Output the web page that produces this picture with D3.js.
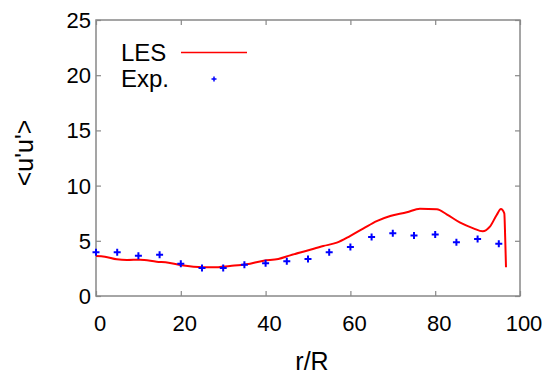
<!DOCTYPE html>
<html><head><meta charset="utf-8">
<script src="https://cdn.jsdelivr.net/npm/d3@7"></script>
<style>body{margin:0;background:#fff}svg{display:block}text{font-family:"Liberation Sans",Arial,sans-serif;fill:#000}</style>
</head><body><svg id="c" width="556" height="378"></svg>
<script>
const xTicks = [0,20,40,60,80,100];
const yTicks = [0,5,10,15,20,25];
const expR = [0,5,10,15,20,25,30,35,40,45,50,55,60,65,70,75,80,85,90,95];
const expV = [3.96,3.96,3.65,3.74,2.93,2.54,2.54,2.84,2.96,3.14,3.35,3.96,4.44,5.34,5.68,5.47,5.56,4.86,5.16,4.74];
const lesR = [0,2.1,4.9,7.3,10.4,14.3,17.1,20.2,23,27.7,31.6,35.5,39.5,43,45.8,49.7,53.6,56.8,59.9,63.1,66.2,69.4,73.3,76.4,80.4,82.7,85.9,89,91.2,92.9,94.5,95.5,96.3,96.5,96.7];
const lesV = [3.62,3.56,3.32,3.26,3.29,3.11,3.02,2.78,2.66,2.60,2.72,2.87,3.20,3.35,3.68,4.10,4.53,4.83,5.43,6.13,6.79,7.25,7.58,7.91,7.85,7.40,6.64,6.13,5.86,6.28,7.34,7.88,7.49,5.37,2.6];

const svg = d3.select("#c");
const L=96,R=520,T=20,B=296;
const x = d3.scaleLinear().domain([0,100]).range([L,R]);
const y = d3.scaleLinear().domain([0,25]).range([B,T]);
const axc = "#888";

const g = svg.append("g");
g.append("rect").attr("x",L).attr("y",T).attr("width",R-L).attr("height",B-T)
 .attr("fill","none").attr("stroke",axc).attr("stroke-width",1.5);
function styleAxis(sel){ sel.select(".domain").remove(); sel.selectAll(".tick line").attr("stroke",axc).attr("stroke-width",1.2); sel.selectAll(".tick text").remove(); }
g.append("g").attr("transform",`translate(0,${B})`).call(d3.axisBottom(x).tickValues(xTicks).tickSizeInner(-5).tickSizeOuter(0)).call(styleAxis);
g.append("g").attr("transform",`translate(0,${T})`).call(d3.axisTop(x).tickValues(xTicks).tickSizeInner(-5).tickSizeOuter(0)).call(styleAxis);
g.append("g").attr("transform",`translate(${L},0)`).call(d3.axisLeft(y).tickValues(yTicks).tickSizeInner(-5).tickSizeOuter(0)).call(styleAxis);
g.append("g").attr("transform",`translate(${R},0)`).call(d3.axisRight(y).tickValues(yTicks).tickSizeInner(-5).tickSizeOuter(0)).call(styleAxis);
svg.selectAll(".xl").data(xTicks).enter().append("text").attr("x",d=>x(d)+4).attr("y",B+35)
 .attr("text-anchor","middle").attr("font-size",22).text(d=>d);
svg.selectAll(".yl").data(yTicks).enter().append("text").attr("x",L-5).attr("y",d=>y(d)+8)
 .attr("text-anchor","end").attr("font-size",22).text(d=>d);
svg.append("text").attr("x",312).attr("y",370).attr("text-anchor","middle").attr("font-size",25).text("r/R");
svg.append("text").attr("transform","translate(33,153) rotate(-90)").attr("text-anchor","middle").attr("font-size",25).text("<u'u'>");

const line = d3.line().x((d,i)=>x(lesR[i])).y(d=>y(d)).curve(d3.curveMonotoneX);
svg.append("path").datum(lesV).attr("d",line).attr("fill","none").attr("stroke","#ff0000").attr("stroke-width",2);

const s=3.5;
svg.append("g").selectAll("path").data(expV).enter().append("path")
 .attr("d",(d,i)=>`M${x(expR[i])-s},${y(d)}H${x(expR[i])+s}M${x(expR[i])},${y(d)-s}V${y(d)+s}`)
 .attr("stroke","#0000ff").attr("stroke-width",2);

svg.append("text").attr("x",121).attr("y",61).attr("font-size",24).text("LES");
svg.append("line").attr("x1",181).attr("x2",247).attr("y1",52.5).attr("y2",52.5).attr("stroke","#ff0000").attr("stroke-width",1.5);
svg.append("text").attr("x",121).attr("y",87).attr("font-size",24).text("Exp.");
svg.append("path").attr("d",`M${214-2.5},79H${214+2.5}M214,${79-2.5}V${79+2.5}`).attr("stroke","#0000ff").attr("stroke-width",1.5);
</script></body></html>
